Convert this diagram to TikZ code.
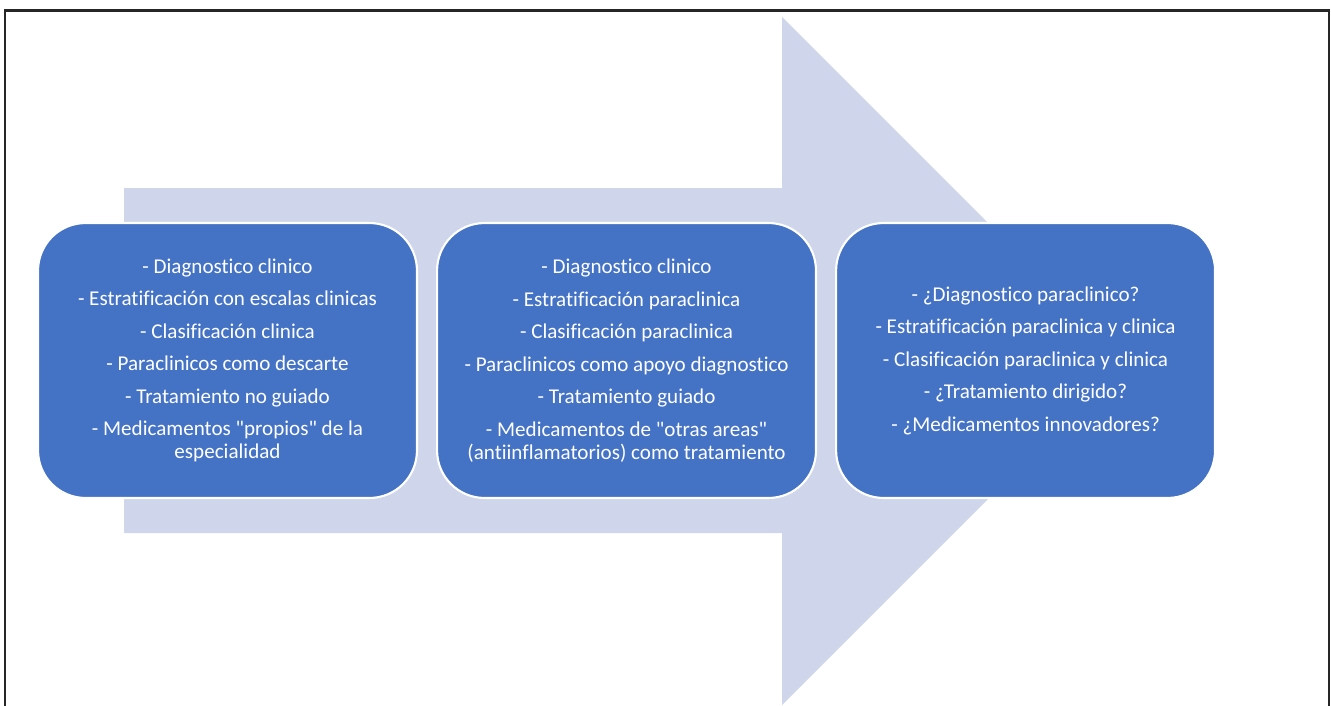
\documentclass[tikz,border=0pt]{standalone}
\usepackage{fontspec}
\setmainfont{Carlito}[Ligatures={TeXOff,CommonOff}]
\usetikzlibrary{positioning}
\definecolor{shaftblue}{HTML}{CFD5EA}
\definecolor{boxblue}{HTML}{4472C4}
\definecolor{framegray}{HTML}{262626}
\tikzset{
  stage/.style={draw=white,line width=1.2pt,fill=boxblue,rounded corners=0.95cm,
    minimum width=7.58cm,minimum height=5.5cm,inner sep=0pt,
    text=white,align=center,font=\fontsize{12}{13.2}\selectfont}
}

\begin{document}
\begin{tikzpicture}[x=0.02cm,y=-0.02cm]
\useasboundingbox (0,0) rectangle (1331,706);
\fill[shaftblue] (124,188) -- (782,188) -- (782,17) -- (1126,361) -- (782,705) -- (782,533) -- (124,533) -- cycle;
\draw[framegray,line width=1.5pt] (5,706) -- (5,10.5) -- (1329,10.5) -- (1329,706);
\node[stage] (clinico) at (227.5,360.5) {- Diagnostico clinico\\[5.3pt]
  - Estratificación con escalas clinicas\\[5.3pt]
  - Clasificación clinica\\[5.3pt]
  - Paraclinicos como descarte\\[5.3pt]
  - Tratamiento no guiado\\[5.3pt]
  - Medicamentos "propios" de la\\especialidad};
\node[stage,right=0.36cm of clinico] (paraclinico) {- Diagnostico clinico\\[5.3pt]
  - Estratificación paraclinica\\[5.3pt]
  - Clasificación paraclinica\\[5.3pt]
  - Paraclinicos como apoyo diagnostico\\[5.3pt]
  - Tratamiento guiado\\[5.3pt]
  - Medicamentos de "otras areas"\\(antiinflamatorios) como tratamiento};
\node[stage,right=0.36cm of paraclinico] (futuro) {- ¿Diagnostico paraclinico?\\[5.3pt]
  - Estratificación paraclinica y clinica\\[5.3pt]
  - Clasificación paraclinica y clinica\\[5.3pt]
  - ¿Tratamiento dirigido?\\[5.3pt]
  - ¿Medicamentos innovadores?};
\end{tikzpicture}
\end{document}
